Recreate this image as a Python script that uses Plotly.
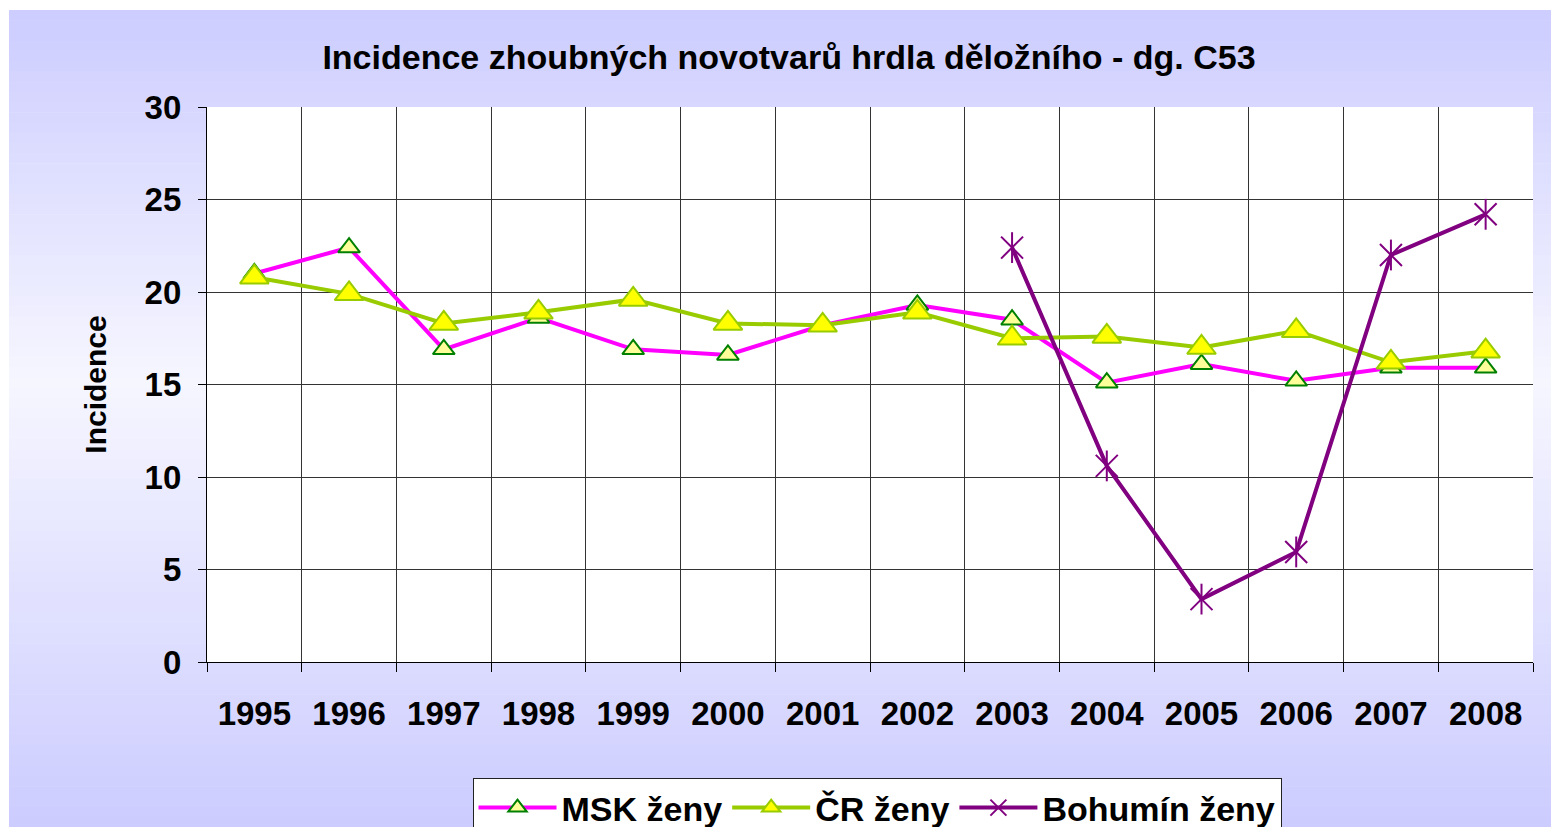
import plotly.graph_objects as go

years = ["1995", "1996", "1997", "1998", "1999", "2000", "2001",
         "2002", "2003", "2004", "2005", "2006", "2007", "2008"]
msk_zeny = [21.0, 22.4, 16.9, 18.6, 16.9, 16.6, 18.2, 19.3, 18.5, 15.1, 16.1, 15.2, 15.9, 15.9]
cr_zeny = [20.8, 19.9, 18.3, 18.9, 19.6, 18.3, 18.2, 18.9, 17.5, 17.6, 17.0, 17.9, 16.2, 16.8]
bohumin_zeny = [None, None, None, None, None, None, None, None, 22.4, 10.6, 3.4, 5.95, 22.0, 24.2]

title_text = "Incidence zhoubných novotvarů hrdla děložního - dg. C53"
y_title = "Incidence"

W, H = 1551, 827
PX0, PX1, PY0, PY1 = 207, 1533, 107, 662  # plot area in pixels


def px_x(px):
    return (px - PX0) / (PX1 - PX0)


def px_y(py):
    return (PY1 - py) / (PY1 - PY0)


FONT = "Arial, 'Liberation Sans', Helvetica, sans-serif"

fig = go.Figure()

fig.add_trace(go.Scatter(
    x=years, y=msk_zeny, name="MSK ženy", mode="lines+markers",
    line=dict(color="#FF00FF", width=4),
    marker=dict(symbol="triangle-up", size=19, color="#FFFF99",
                line=dict(color="#008000", width=2)),
))
fig.add_trace(go.Scatter(
    x=years, y=cr_zeny, name="ČR ženy", mode="lines+markers",
    line=dict(color="#99CC00", width=4),
    marker=dict(symbol="triangle-up", size=25, color="#FFFF00",
                line=dict(color="#99CC00", width=2)),
))
fig.add_trace(go.Scatter(
    x=years, y=bohumin_zeny, name="Bohumín ženy", mode="lines+markers",
    line=dict(color="#800080", width=4),
    marker=dict(symbol="x-thin-open", size=22, color="#800080",
                line=dict(color="#800080", width=2)),
))
fig.add_trace(go.Scatter(
    x=years, y=bohumin_zeny, name="Bohumín ženy", mode="markers",
    showlegend=False, hoverinfo="skip",
    marker=dict(symbol="line-ns-open", size=22, color="#800080",
                line=dict(color="#800080", width=2)),
))

# background gradient panel (vertical: lavender -> pale -> lavender)
shapes = []
top, bot = 10, 827
n = 80
c_edge = (204, 204, 255)
c_mid = (246, 246, 255)
for i in range(n):
    y0 = top + (bot - top) * i / n
    y1 = top + (bot - top) * (i + 1) / n
    t = (i + 0.5) / n
    if t < 0.45:
        f = t / 0.45
    else:
        f = (1 - t) / 0.55
    col = tuple(round(c_edge[k] + (c_mid[k] - c_edge[k]) * f) for k in range(3))
    shapes.append(dict(type="rect", xref="paper", yref="paper", layer="below",
                       x0=px_x(9), x1=px_x(W + 2), y0=px_y(y1 + 0.6), y1=px_y(y0),
                       fillcolor="rgb(%d,%d,%d)" % col, line=dict(width=0)))
shapes.append(dict(type="rect", xref="paper", yref="paper", layer="below",
                   x0=0, x1=1, y0=0, y1=1, fillcolor="white", line=dict(width=0)))

fig.update_layout(
    width=W, height=H,
    margin=dict(l=PX0, r=W - PX1, t=PY0, b=H - PY1, autoexpand=False),
    paper_bgcolor="white",
    plot_bgcolor="white",
    shapes=shapes,
    font=dict(family=FONT, color="black"),
    title=dict(text=title_text, x=789 / W, xref="container", xanchor="center",
               y=1 - 57 / H, yref="container", yanchor="middle",
               font=dict(family=FONT, size=34, weight="bold", color="black")),
    showlegend=True,
    legend=dict(orientation="h", x=px_x(877), xanchor="center",
                y=px_y(778), yanchor="top",
                bgcolor="white", bordercolor="#222222", borderwidth=1,
                font=dict(family=FONT, size=34, weight="bold", color="black"),
                itemwidth=78, tracegroupgap=0),
    xaxis=dict(type="category", tickson="boundaries",
               showgrid=True, gridcolor="#333333", gridwidth=1.3,
               showline=True, linecolor="black", linewidth=1.3,
               ticks="outside", ticklen=9, tickcolor="black",
               tickfont=dict(family=FONT, size=33, weight="bold", color="black"),
               ticklabelstandoff=22,
               range=[-0.5, 13.5], fixedrange=True),
    yaxis=dict(range=[0, 30], dtick=5, tick0=0,
               showgrid=True, gridcolor="#333333", gridwidth=1.3,
               showline=True, linecolor="black", linewidth=1.3,
               ticks="outside", ticklen=8, tickcolor="black",
               tickfont=dict(family=FONT, size=33, weight="bold", color="black"),
               ticklabelstandoff=10, zeroline=False,
               title=dict(text=y_title, standoff=29,
                          font=dict(family=FONT, size=30, weight="bold", color="black")),
               fixedrange=True),
)

fig.write_html("out.html", config={"displayModeBar": False},
               post_script="document.body.style.margin='0';document.body.style.padding='0';document.body.style.overflow='hidden';")
